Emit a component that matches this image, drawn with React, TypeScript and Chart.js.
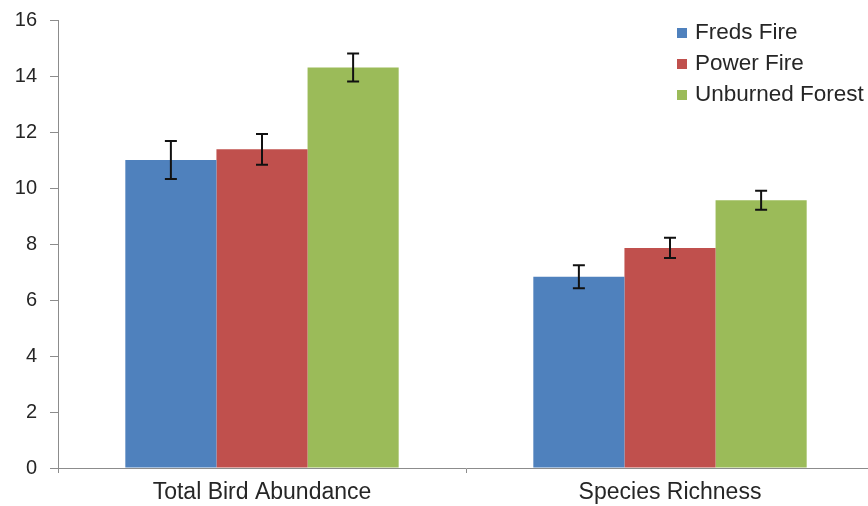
import React, { useEffect, useRef } from "react";
import { Chart, registerables } from "chart.js";

Chart.register(...registerables);

const categories = ["Total Bird Abundance", "Species Richness"];
const seriesNames = ["Freds Fire", "Power Fire", "Unburned Forest"];
const fredsFire = [11.0, 6.83];
const powerFire = [11.38, 7.86];
const unburnedForest = [14.3, 9.56];
const fredsFireErr = [0.68, 0.41];
const powerFireErr = [0.55, 0.36];
const unburnedForestErr = [0.5, 0.34];
const yTicks = [0, 2, 4, 6, 8, 10, 12, 14, 16];

const colors = ["#4F81BD", "#C0504D", "#9BBB59"];
const TEXT = "#262626";
const AXIS = "#8c8c8c";
const FONT = "'Liberation Sans', Arial, sans-serif";

export default function App() {
  const ref = useRef<HTMLCanvasElement | null>(null);

  useEffect(() => {
    document.body.style.margin = "0";
    document.body.style.overflow = "hidden";
    const canvas = ref.current;
    if (!canvas) return;
    const errs = [fredsFireErr, powerFireErr, unburnedForestErr];

    const errorBars = {
      id: "errorBars",
      afterDatasetsDraw(chart: any) {
        const ctx = chart.ctx;
        const y = chart.scales.y;
        ctx.save();
        ctx.strokeStyle = "#111";
        ctx.lineWidth = 2;
        chart.data.datasets.forEach((ds: any, i: number) => {
          const meta = chart.getDatasetMeta(i);
          meta.data.forEach((el: any, j: number) => {
            const v = ds.data[j];
            const e = errs[i][j];
            const top = y.getPixelForValue(v + e);
            const bot = y.getPixelForValue(v - e);
            const x = el.x;
            ctx.beginPath();
            ctx.moveTo(x, top);
            ctx.lineTo(x, bot);
            ctx.moveTo(x - 6, top);
            ctx.lineTo(x + 6, top);
            ctx.moveTo(x - 6, bot);
            ctx.lineTo(x + 6, bot);
            ctx.stroke();
          });
        });
        ctx.restore();
      },
    };

    const legendBox = {
      id: "legendBox",
      afterDraw(chart: any) {
        const ctx = chart.ctx;
        ctx.save();
        ctx.font = `22.5px ${FONT}`;
        ctx.textBaseline = "middle";
        ctx.textAlign = "left";
        const rows = [33, 64, 95];
        seriesNames.forEach((name, i) => {
          ctx.fillStyle = colors[i];
          ctx.fillRect(677, rows[i] - 5, 10, 10);
          ctx.fillStyle = TEXT;
          ctx.fillText(name, 695, rows[i]);
        });
        ctx.restore();
      },
    };

    const chart = new Chart(canvas, {
      type: "bar",
      data: {
        labels: categories,
        datasets: [
          { label: seriesNames[0], data: fredsFire, backgroundColor: colors[0] },
          { label: seriesNames[1], data: powerFire, backgroundColor: colors[1] },
          { label: seriesNames[2], data: unburnedForest, backgroundColor: colors[2] },
        ],
      },
      options: {
        animation: false,
        responsive: false,
        maintainAspectRatio: false,
        devicePixelRatio: 1,
        layout: { padding: { top: 20, right: 2, left: 0, bottom: 0 } },
        datasets: {
          bar: { categoryPercentage: 0.67, barPercentage: 1.0 },
        },
        plugins: {
          legend: { display: false },
          tooltip: { enabled: false },
        },
        scales: {
          x: {
            grid: {
              display: true,
              drawOnChartArea: false,
              drawTicks: true,
              tickLength: 5,
              color: AXIS,
              offset: true,
            },
            border: { display: true, color: AXIS, width: 1 },
            ticks: {
              color: TEXT,
              font: { family: FONT, size: 23 },
              padding: 6,
              maxRotation: 0,
            },
            afterFit(scale: any) {
              scale.height = 38;
              scale.paddingLeft = 0;
              scale.paddingRight = 0;
            },
          },
          y: {
            min: 0,
            max: 16,
            afterBuildTicks(scale: any) {
              scale.ticks = yTicks.map((v) => ({ value: v }));
            },
            grid: {
              display: true,
              drawOnChartArea: false,
              drawTicks: true,
              tickLength: 8,
              color: AXIS,
            },
            border: { display: true, color: AXIS, width: 1 },
            ticks: {
              color: TEXT,
              font: { family: FONT, size: 20 },
              padding: 13,
            },
            afterFit(scale: any) {
              scale.width = 58;
              scale.paddingTop = 0;
              scale.paddingBottom = 0;
            },
          },
        },
      },
      plugins: [errorBars, legendBox],
    });

    return () => chart.destroy();
  }, []);

  return (
    <div style={{ width: 868, height: 506, overflow: "hidden", position: "relative", background: "#fff" }}>
      <canvas ref={ref} width={876} height={506} style={{ position: "absolute", left: 0, top: 0, width: 876, height: 506 }} />
    </div>
  );
}
